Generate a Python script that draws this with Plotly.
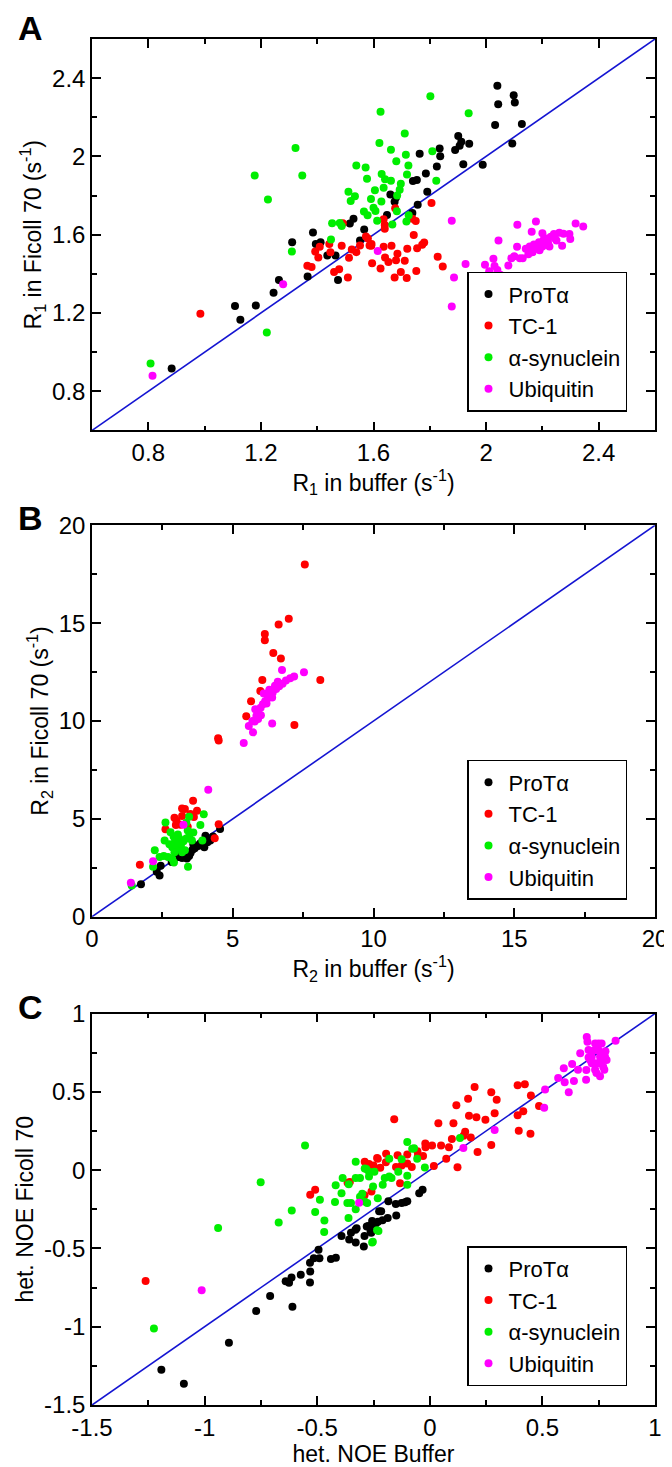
import plotly.graph_objects as go

# ---- Panel A: R1 (s^-1), buffer vs Ficoll 70 ----
r1_prot_buffer = [0.883, 1.108, 1.127, 1.182, 1.245, 1.264, 1.311, 1.366, 1.385, 1.395, 1.412, 1.436, 1.465, 1.474,
                  1.516, 1.529, 1.552, 1.567, 1.648, 1.660, 1.675, 1.680, 1.738, 1.754, 1.740, 1.757, 1.764, 1.786,
                  1.791, 1.825, 1.835, 1.837, 1.890, 1.901, 1.906, 1.912, 1.919, 1.940, 1.988, 2.032, 2.040, 2.043,
                  2.093, 2.098, 2.102, 2.127]
r1_prot_ficoll = [0.917, 1.236, 1.166, 1.238, 1.304, 1.368, 1.561, 1.386, 1.611, 1.553, 1.561, 1.494, 1.494, 1.369,
                  1.657, 1.682, 1.571, 1.627, 1.701, 1.806, 1.768, 1.790, 1.711, 1.879, 1.875, 1.753, 2.014, 1.913,
                  1.819, 1.948, 2.041, 2.001, 2.033, 2.105, 2.055, 2.075, 1.960, 2.065, 1.957, 2.161, 2.361, 2.267,
                  2.066, 2.312, 2.275, 2.166]

r1_tc1_buffer = [0.985, 1.365, 1.380, 1.393, 1.404, 1.409, 1.443, 1.447, 1.460, 1.478, 1.487, 1.491, 1.509, 1.513,
                 1.523, 1.539, 1.552, 1.573, 1.580, 1.586, 1.592, 1.593, 1.595, 1.625, 1.636, 1.636, 1.640, 1.640,
                 1.641, 1.653, 1.664, 1.675, 1.677, 1.685, 1.680, 1.697, 1.711, 1.718, 1.720, 1.738, 1.743, 1.750,
                 1.752, 1.755, 1.773, 1.780, 1.806, 1.828, 1.846]
r1_tc1_ficoll = [1.196, 1.442, 1.435, 1.514, 1.484, 1.539, 1.553, 1.510, 1.410, 1.423, 1.544, 1.659, 1.381, 1.482,
                 1.524, 1.511, 1.545, 1.591, 1.581, 1.545, 1.544, 1.553, 1.454, 1.427, 1.538, 1.679, 1.650, 1.630,
                 1.484, 1.460, 1.544, 1.381, 1.735, 1.503, 1.469, 1.410, 1.467, 1.379, 1.528, 1.682, 1.598, 1.670,
                 1.415, 1.531, 1.549, 1.560, 1.762, 1.487, 1.437]

r1_syn_buffer = [0.808, 1.178, 1.225, 1.323, 1.347, 1.221, 1.310, 1.449, 1.453, 1.480, 1.487, 1.511, 1.519, 1.534,
                 1.539, 1.572, 1.577, 1.591, 1.605, 1.600, 1.607, 1.566, 1.579, 1.613, 1.625, 1.621, 1.802, 1.938,
                 1.711, 1.662, 1.715, 1.809, 1.681, 1.724, 1.719, 1.629, 1.823, 1.641, 1.662, 1.693, 1.697, 1.636,
                 1.628, 1.684, 1.683, 1.717, 1.725, 1.667]
r1_syn_ficoll = [0.942, 1.902, 1.780, 2.043, 1.903, 1.100, 1.514, 1.575, 1.659, 1.660, 1.645, 1.820, 1.772, 1.797,
                 1.954, 1.943, 1.886, 1.782, 1.827, 1.738, 1.721, 1.718, 1.699, 1.671, 2.228, 2.068, 2.307, 2.221,
                 2.117, 2.034, 2.008, 2.026, 1.975, 1.954, 1.908, 1.910, 1.876, 1.884, 1.876, 1.830, 1.860, 1.840,
                 1.770, 1.800, 1.720, 1.667, 1.700, 1.652]

r1_ubq_buffer = [0.815, 1.279, 1.615, 1.878, 1.878, 1.886, 1.927, 1.959, 1.996, 2.011, 2.026, 2.030, 2.040, 2.050,
                 2.044, 2.079, 2.090, 2.100, 2.110, 2.111, 2.120, 2.130, 2.141, 2.150, 2.162, 2.165, 2.177, 2.180,
                 2.188, 2.190, 2.200, 2.205, 2.210, 2.215, 2.220, 2.225, 2.241, 2.245, 2.250, 2.270, 2.260, 2.275,
                 2.296, 2.299, 2.318, 2.345, 2.170, 2.230, 2.200, 2.155]
r1_ubq_ficoll = [0.879, 1.347, 1.517, 1.671, 1.233, 1.381, 1.450, 1.361, 1.447, 1.413, 1.477, 1.440, 1.420, 1.396,
                 1.570, 1.443, 1.480, 1.490, 1.539, 1.651, 1.480, 1.480, 1.528, 1.500, 1.615, 1.510, 1.667, 1.530,
                 1.561, 1.520, 1.607, 1.575, 1.550, 1.580, 1.560, 1.540, 1.603, 1.580, 1.570, 1.544, 1.610, 1.605,
                 1.603, 1.578, 1.657, 1.642, 1.550, 1.590, 1.540, 1.540]

# ---- Panel B: R2 (s^-1) ----
r2_prot_buffer = [1.74, 2.30, 2.40, 2.44, 2.83, 3.08, 3.20, 3.37, 3.30, 3.50, 3.45, 3.57, 3.65, 3.77, 3.99, 4.10,
                  4.03, 4.20, 4.55, 3.30, 3.10, 2.95, 3.60, 3.85, 4.30]
r2_prot_ficoll = [1.66, 2.30, 2.10, 2.60, 2.80, 3.05, 3.00, 2.97, 3.20, 3.25, 3.10, 3.42, 3.50, 3.61, 3.55, 3.80,
                  4.14, 3.90, 4.48, 3.35, 3.20, 3.00, 3.70, 3.75, 4.10]

r2_tc1_buffer = [7.56, 6.99, 6.63, 6.14, 6.14, 6.44, 6.71, 8.11, 6.05, 5.98, 5.65, 5.48, 7.19, 4.48, 4.50, 3.59,
                 3.20, 3.30, 3.73, 2.93, 3.20, 3.50, 3.62, 2.98, 2.61, 3.15, 4.50, 4.36, 1.70, 3.40, 3.00]
r2_tc1_ficoll = [18.0, 15.23, 14.93, 14.45, 14.13, 13.47, 13.19, 12.09, 12.10, 11.53, 11.01, 10.24, 9.80, 9.12, 9.00,
                 5.93, 5.53, 5.50, 5.42, 5.06, 5.15, 5.25, 5.10, 4.68, 4.47, 4.70, 4.73, 4.01, 2.66, 4.60, 4.90]

r2_syn_buffer = [2.61, 3.45, 3.97, 3.85, 2.79, 3.05, 3.40, 2.58, 2.75, 2.95, 3.10, 3.25, 2.85, 3.00, 3.15, 3.35,
                 3.45, 3.55, 3.92, 2.23, 2.40, 2.55, 2.70, 2.85, 2.91, 3.41, 2.17, 1.41, 3.16, 2.93, 3.30, 3.60,
                 3.20, 3.00, 3.10, 2.90, 3.35, 3.05]
r2_syn_ficoll = [4.81, 5.11, 5.23, 4.68, 4.31, 4.20, 4.40, 3.89, 3.70, 3.85, 4.00, 3.85, 3.55, 3.50, 3.60, 4.00,
                 4.10, 3.90, 3.89, 3.39, 3.05, 3.10, 3.05, 2.95, 2.77, 2.55, 2.55, 1.59, 3.72, 3.30, 3.40, 4.30,
                 3.30, 4.05, 3.90, 4.10, 4.80, 3.80]

r2_ubq_buffer = [6.75, 7.53, 7.18, 7.04, 6.89, 6.77, 6.65, 6.54, 6.42, 6.34, 6.25, 6.15, 6.07, 5.99, 5.90, 5.84,
                 5.78, 5.57, 5.72, 5.39, 6.40, 6.50, 6.40, 6.20, 6.00, 5.80, 6.10, 6.30, 6.60, 5.90, 5.70, 4.13,
                 3.25, 2.17, 1.38]
r2_ubq_ficoll = [12.60, 12.49, 12.27, 12.19, 12.07, 11.90, 11.77, 11.63, 11.46, 11.35, 11.18, 11.01, 10.85, 10.68,
                 10.46, 10.26, 9.97, 9.75, 9.42, 8.87, 9.87, 11.80, 11.20, 10.90, 10.30, 10.60, 11.40, 11.60, 12.00,
                 10.10, 10.00, 6.49, 4.70, 2.84, 1.74]

# ---- Panel C: heteronuclear NOE ----
noe_prot_buffer = [-1.192, -1.092, -0.892, -0.771, -0.709, -0.610, -0.640, -0.625, -0.614, -0.573, -0.532, -0.531,
                   -0.532, -0.515, -0.490, -0.494, -0.439, -0.417, -0.392, -0.358, -0.350, -0.330, -0.329, -0.325,
                   -0.290, -0.293, -0.273, -0.256, -0.260, -0.240, -0.225, -0.263, -0.253, -0.230, -0.210, -0.216,
                   -0.187, -0.184, -0.149, -0.151, -0.125, -0.110, -0.100, -0.047, -0.032, -0.280]
noe_prot_ficoll = [-1.275, -1.365, -1.102, -0.899, -0.804, -0.872, -0.710, -0.720, -0.686, -0.668, -0.718, -0.647,
                   -0.592, -0.563, -0.563, -0.508, -0.567, -0.560, -0.420, -0.443, -0.400, -0.380, -0.462, -0.371,
                   -0.420, -0.487, -0.357, -0.325, -0.400, -0.340, -0.262, -0.388, -0.346, -0.330, -0.320, -0.262,
                   -0.305, -0.199, -0.289, -0.216, -0.210, -0.205, -0.199, -0.147, -0.126, -0.360]

noe_tc1_buffer = [-1.262, -0.531, -0.509, -0.365, -0.355, -0.290, -0.259, -0.234, -0.250, -0.158, -0.289, -0.270,
                  -0.231, -0.220, -0.194, -0.195, -0.143, -0.150, -0.132, -0.125, -0.100, -0.100, -0.080, -0.053,
                  -0.055, -0.030, -0.019, -0.020, 0.010, 0.018, 0.050, 0.038, 0.073, 0.085, 0.098, 0.105, 0.118,
                  0.123, 0.157, 0.150, 0.170, 0.174, 0.182, 0.199, 0.207, 0.212, 0.247, 0.273, 0.288, 0.297, 0.273,
                  0.390, 0.422, 0.449, 0.415, 0.390, 0.395, 0.447, 0.485]
noe_tc1_ficoll = [-0.708, -0.157, -0.126, -0.080, -0.075, -0.160, -0.136, 0.078, 0.030, 0.325, 0.053, 0.040, 0.073,
                  0.015, 0.105, 0.050, 0.095, 0.020, -0.084, 0.030, 0.100, 0.042, 0.020, 0.090, 0.120, 0.090, 0.147,
                  0.170, 0.158, 0.027, 0.158, 0.300, 0.073, 0.147, 0.199, 0.300, 0.414, 0.019, 0.246, 0.220, 0.456,
                  0.347, 0.208, 0.531, 0.338, 0.116, 0.322, 0.498, 0.363, 0.450, 0.160, 0.542, 0.549, 0.477, 0.376,
                  0.350, 0.252, 0.233, 0.410]

noe_syn_buffer = [-1.225, -0.940, -0.751, -0.671, -0.613, -0.554, -0.509, -0.488, -0.468, -0.469, -0.421, -0.418,
                  -0.392, -0.387, -0.360, -0.366, -0.350, -0.361, -0.329, -0.329, -0.310, -0.329, -0.310, -0.300,
                  -0.290, -0.282, -0.270, -0.270, -0.256, -0.234, -0.289, -0.246, -0.252, -0.278, -0.231, -0.209,
                  -0.200, -0.180, -0.180, -0.170, -0.140, -0.125, -0.100, -0.100, -0.078, -0.070, -0.100, -0.056,
                  -0.022, 0.134, -0.228, -0.253]
noe_syn_ficoll = [-1.012, -0.370, -0.078, -0.334, -0.258, 0.158, -0.267, -0.189, -0.321, -0.395, -0.204, -0.097,
                  -0.147, -0.050, -0.090, -0.210, -0.210, -0.305, 0.053, -0.050, -0.050, -0.250, -0.170, -0.150,
                  -0.200, 0.008, -0.010, -0.040, -0.462, -0.384, 0.010, -0.010, -0.105, -0.210, -0.179, -0.094,
                  -0.050, 0.073, -0.040, -0.050, -0.010, 0.070, -0.036, -0.094, 0.137, 0.140, 0.179, 0.073, 0.017,
                  0.206, -0.388, -0.458]

noe_ubq_buffer = [-1.013, -0.314, 0.149, 0.288, 0.508, 0.512, 0.570, 0.599, 0.617, 0.595, 0.632, 0.640, 0.694,
                  0.658, 0.668, 0.697, 0.700, 0.825, 0.705, 0.719, 0.734, 0.749, 0.749, 0.756, 0.763, 0.741, 0.785,
                  0.778, 0.775, 0.756, 0.734, 0.719, 0.712, 0.734, 0.749, 0.763, 0.734, 0.705, 0.760, 0.780, 0.770,
                  0.740, 0.695, 0.720, 0.760]
noe_ubq_ficoll = [-0.767, -0.208, 0.141, 0.256, 0.399, 0.515, 0.588, 0.561, 0.498, 0.651, 0.678, 0.570, 0.578,
                  0.641, 0.746, 0.851, 0.820, 0.826, 0.767, 0.725, 0.767, 0.809, 0.767, 0.725, 0.704, 0.767, 0.704,
                  0.725, 0.641, 0.599, 0.683, 0.683, 0.704, 0.641, 0.683, 0.809, 0.809, 0.720, 0.740, 0.760, 0.660,
                  0.620, 0.640, 0.760, 0.690]

names = ["ProT\u03b1", "TC-1", "\u03b1-synuclein", "Ubiquitin"]
colors = ["#000000", "#ff0000", "#00ee00", "#ff00ff"]

panels = [
    dict(letter="A", rng=[0.6, 2.6], dtick=0.4, tick0=0.8, minor=0.2, ticktext=None,
         xtitle="R<sub>1</sub> in buffer (s<sup>-1</sup>)", ytitle="R<sub>1</sub> in Ficoll 70 (s<sup>-1</sup>)",
         series=[(r1_prot_buffer, r1_prot_ficoll), (r1_tc1_buffer, r1_tc1_ficoll),
                 (r1_syn_buffer, r1_syn_ficoll), (r1_ubq_buffer, r1_ubq_ficoll)]),
    dict(letter="B", rng=[0, 20], dtick=5, tick0=0, minor=2.5, ticktext=None,
         xtitle="R<sub>2</sub> in buffer (s<sup>-1</sup>)", ytitle="R<sub>2</sub> in Ficoll 70 (s<sup>-1</sup>)",
         series=[(r2_prot_buffer, r2_prot_ficoll), (r2_tc1_buffer, r2_tc1_ficoll),
                 (r2_syn_buffer, r2_syn_ficoll), (r2_ubq_buffer, r2_ubq_ficoll)]),
    dict(letter="C", rng=[-1.5, 1], dtick=0.5, tick0=-1.5, minor=0.25,
         ticktext=["-1.5", "-1", "-0.5", "0", "0.5", "1"],
         xtitle="het. NOE Buffer", ytitle="het. NOE Ficoll 70",
         series=[(noe_prot_buffer, noe_prot_ficoll), (noe_tc1_buffer, noe_tc1_ficoll),
                 (noe_syn_buffer, noe_syn_ficoll), (noe_ubq_buffer, noe_ubq_ficoll)]),
]

W, H = 672, 1467
M = dict(l=84, r=16, t=31, b=54)
ph = H - M["t"] - M["b"]
pw = W - M["l"] - M["r"]
# frame pixel rows (top, bottom) of each panel
frames = [(31, 427), (523, 919), (1017, 1413)]
legend_bottoms = [408, 902, 1394]
letter_y = [20, 516, 1010]


def py(p):
    return (H - M["b"] - p) / ph


FONT = "Liberation Sans, Arial, Helvetica, sans-serif"

fig = go.Figure()
layout = dict(width=W, height=H, margin=M, paper_bgcolor="white", plot_bgcolor="white",
              font=dict(family=FONT, color="black", size=23), annotations=[])

for i, p in enumerate(panels):
    k = "" if i == 0 else str(i + 1)
    xa, ya = "x" + k, "y" + k
    lg = "legend" + k
    lo, hi = p["rng"]
    fig.add_trace(go.Scatter(x=[lo, hi], y=[lo, hi], mode="lines", xaxis=xa, yaxis=ya, showlegend=False,
                             line=dict(color="#1414d2", width=1.6), hoverinfo="skip"))
    for (xs, ys), nm, c in zip(p["series"], names, colors):
        fig.add_trace(go.Scatter(x=xs, y=ys, mode="markers", name=nm, xaxis=xa, yaxis=ya, legend=lg,
                                 marker=dict(color=c, size=8, line=dict(width=0))))

    ax = dict(range=p["rng"], showline=True, linecolor="black", linewidth=1.5, mirror="ticks",
              ticks="inside", ticklen=9, tickwidth=1.5, tickcolor="black", showgrid=False, zeroline=False,
              tickfont=dict(size=24), minor=dict(ticks="inside", ticklen=5, tickwidth=1.5, tickcolor="black",
                                                  dtick=p["minor"], tick0=p["rng"][0], showgrid=False))
    if p["ticktext"]:
        vals = [p["rng"][0] + j * p["dtick"] for j in range(len(p["ticktext"]))]
        ax.update(tickmode="array", tickvals=vals, ticktext=p["ticktext"])
    else:
        ax.update(tick0=p["tick0"], dtick=p["dtick"])

    top, bot = frames[i]
    layout["xaxis" + k] = dict(ax, domain=[0, 1], anchor=ya,
                               title=dict(text=p["xtitle"], font=dict(size=23), standoff=6))
    layout["yaxis" + k] = dict(ax, domain=[py(bot), py(top)], anchor=xa,
                               title=dict(text=p["ytitle"], font=dict(size=23), standoff=4))
    layout[lg] = dict(x=(465 - M["l"]) / pw, y=py(legend_bottoms[i]), xanchor="left",
                      yanchor="bottom", bordercolor="black", borderwidth=1.5, bgcolor="white",
                      font=dict(size=22), tracegroupgap=0)
    layout["annotations"].append(dict(text="<b>%s</b>" % p["letter"], xref="paper", yref="paper",
                                      x=(22 - M["l"]) / pw, y=py(letter_y[i]),
                                      xanchor="center", yanchor="middle", showarrow=False,
                                      font=dict(size=34)))

fig.update_layout(**layout)
fig.write_html("out.html")
